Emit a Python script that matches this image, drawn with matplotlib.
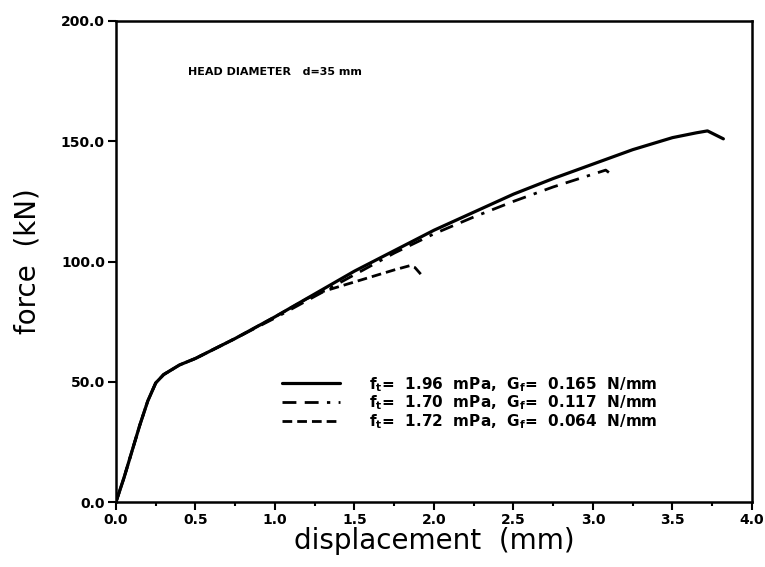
import numpy as np
import matplotlib
matplotlib.use("Agg")
import matplotlib.pyplot as plt
from matplotlib.ticker import MultipleLocator

# solid: f_t=1.96 mPa, G_f=0.165 N/mm
x_a = [0, 0.05, 0.1, 0.15, 0.2, 0.25, 0.3, 0.4, 0.5, 0.75, 1.0, 1.25, 1.5,
       1.75, 2.0, 2.25, 2.5, 2.75, 3.0, 3.25, 3.5, 3.65, 3.72, 3.82]
y_a = [0, 10, 21, 32, 42, 49.5, 53, 57, 59.7, 68, 77, 86.5, 96,
       104.5, 113, 120.5, 128, 134.5, 140.5, 146.5, 151.5, 153.5, 154.3, 151]

# dash-dot: f_t=1.70 mPa, G_f=0.117 N/mm
x_b = [0, 0.05, 0.1, 0.15, 0.2, 0.25, 0.3, 0.4, 0.5, 0.75, 1.0, 1.25, 1.5,
       1.75, 2.0, 2.25, 2.5, 2.75, 3.0, 3.08, 3.1]
y_b = [0, 10, 21, 32, 42, 49.5, 53, 57, 59.7, 68, 76.5, 85.5, 94.5,
       103.5, 111.5, 118.5, 125, 131, 136.3, 138, 137]

# dashed: f_t=1.72 mPa, G_f=0.064 N/mm
x_c = [0, 0.05, 0.1, 0.15, 0.2, 0.25, 0.3, 0.4, 0.5, 0.75, 1.0, 1.2, 1.3,
       1.45, 1.6, 1.75, 1.85, 1.88, 1.92]
y_c = [0, 10, 21, 32, 42, 49.5, 53, 57, 59.7, 68, 77, 84.5, 87.5,
       90.5, 93.5, 96.5, 98.3, 97.5, 94.5]

labels = [r"f$_\mathregular{t}$=  1.96  mPa,  G$_\mathregular{f}$=  0.165  N/mm",
          r"f$_\mathregular{t}$=  1.70  mPa,  G$_\mathregular{f}$=  0.117  N/mm",
          r"f$_\mathregular{t}$=  1.72  mPa,  G$_\mathregular{f}$=  0.064  N/mm"]

x_ticks = np.arange(0, 4.01, 0.5)
y_ticks = np.arange(0, 200.1, 50)

fig = plt.figure(figsize=(7.65, 5.67), dpi=100)
ax = fig.add_axes([0.1516, 0.1146, 0.8314, 0.8484])

ax.plot(x_a, y_a, color="black", lw=2.3, solid_capstyle="round",
        label=labels[0])
ax.plot(x_b, y_b, color="black", lw=2.0,
        dashes=(5, 3, 5, 3, 1.2, 3), label=labels[1])
ax.plot(x_c, y_c, color="black", lw=2.0, dashes=(3.5, 1.8), label=labels[2])

ax.set_xlim(0, 4.0)
ax.set_ylim(0, 200)
ax.set_xticks(x_ticks)
ax.set_yticks(y_ticks)
ax.set_xticklabels(["{:.1f}".format(v) for v in x_ticks])
ax.set_yticklabels(["{:.1f}".format(v) for v in y_ticks])
ax.xaxis.set_minor_locator(MultipleLocator(0.25))
ax.tick_params(which="major", direction="out", length=6, width=1.5,
               labelsize=10, pad=2)
ax.tick_params(which="minor", direction="out", length=3, width=1.5)
ax.tick_params(axis="y", which="minor", left=False)
for lab in ax.get_xticklabels() + ax.get_yticklabels():
    lab.set_fontweight("bold")
for sp in ax.spines.values():
    sp.set_linewidth(1.8)

ax.set_xlabel("displacement  (mm)", fontsize=20, labelpad=0)
ax.set_ylabel("force  (kN)", fontsize=20, labelpad=14)

ax.text(0.113, 0.887, "HEAD DIAMETER   d=35 mm", transform=ax.transAxes,
        fontsize=8, fontweight="bold")

leg = ax.legend(loc="upper left", bbox_to_anchor=(0.24, 0.293), frameon=False,
                handlelength=3.8, handletextpad=1.9, labelspacing=0.0,
                prop={"size": 11, "weight": "bold"})

fig.savefig("out.png", dpi=100)
